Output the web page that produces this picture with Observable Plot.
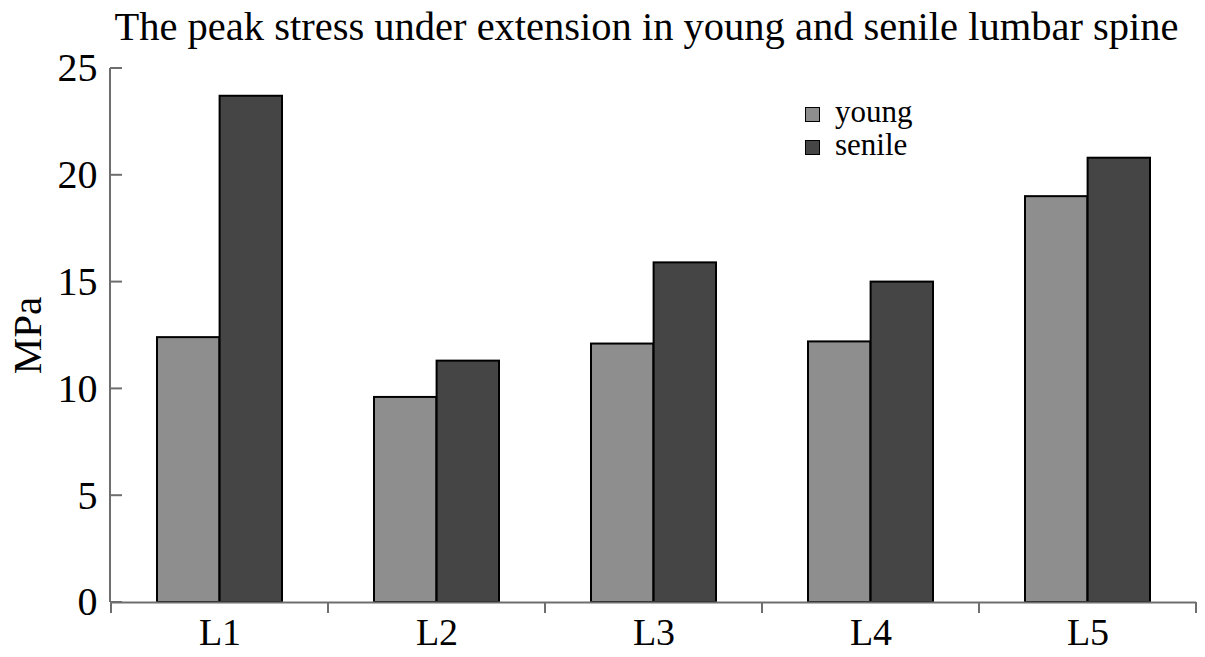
<!DOCTYPE html>
<html>
<head>
<meta charset="utf-8">
<script src="https://cdn.jsdelivr.net/npm/d3@7"></script>
<script src="https://cdn.jsdelivr.net/npm/@observablehq/plot@0.6"></script>
<style>
  html, body { margin: 0; padding: 0; background: #fff; }
  #wrap { position: relative; width: 1205px; height: 657px; font-family: "Liberation Serif", "Times New Roman", serif; color: #000; }
  #title { position: relative; top: 7px; height: 40px; line-height: 40px; font-size: 40.5px; text-align: center; padding-left: 88px; white-space: nowrap; }
  .leg { position: absolute; font-size: 31px; line-height: 31px; white-space: nowrap; }
  .sw { position: absolute; width: 13px; height: 13px; border: 1.5px solid #000; }
  svg { display: block; }
</style>
</head>
<body>
<div id="wrap">
  <div id="title">The peak stress under extension in young and senile lumbar spine</div>
  <div id="chart"></div>
</div>
<script>
const categories = ["L1", "L2", "L3", "L4", "L5"];
const series = ["young", "senile"];
const young = [12.4, 9.6, 12.1, 12.2, 19.0];
const senile = [23.7, 11.3, 15.9, 15.0, 20.8];
const yTicks = [0, 5, 10, 15, 20, 25];
const colors = ["#8e8e8e", "#454545"];

const rows = [];
categories.forEach((c, i) => {
  rows.push({cat: c, series: "young", value: young[i]});
  rows.push({cat: c, series: "senile", value: senile[i]});
});

const W = 1205, H = 617, mL = 110, mR = 9, mT = 28, mB = 55;
const band = (W - mL - mR) / categories.length;
const outer = 46;
const axisColor = "#6e6e6e";

function axisDecor(index, scales, values, dimensions) {
  const {x, y} = scales;
  const g = d3.create("svg:g").attr("stroke", axisColor).attr("stroke-width", 2).attr("fill", "none");
  const left = dimensions.marginLeft;
  g.append("line").attr("x1", left).attr("x2", left).attr("y1", y(25)).attr("y2", y(0));
  for (const t of yTicks) {
    g.append("line").attr("x1", left).attr("x2", left + 12).attr("y1", y(t)).attr("y2", y(t));
  }
  const bounds = categories.map(c => x(c)).concat([x(categories[categories.length - 1]) + x.bandwidth()]);
  for (const b of bounds) {
    g.append("line").attr("x1", b).attr("x2", b).attr("y1", y(0)).attr("y2", y(0) + 11);
  }
  return g.node();
}

const plot = Plot.plot({
  width: W,
  height: H,
  marginLeft: mL,
  marginRight: mR,
  marginTop: mT,
  marginBottom: mB,
  style: {fontFamily: "Liberation Serif, Times New Roman, serif", color: "#000", background: "transparent"},
  x: {domain: categories, padding: 0, label: null},
  y: {domain: [0, 25], label: null},
  color: {domain: series, range: colors},
  marks: [
    Plot.barY(rows.filter(d => d.series === "young"), {x: "cat", y: "value", fill: "series", stroke: "#000", strokeWidth: 2, insetLeft: outer, insetRight: band / 2}),
    Plot.barY(rows.filter(d => d.series === "senile"), {x: "cat", y: "value", fill: "series", stroke: "#000", strokeWidth: 2, insetLeft: band / 2, insetRight: outer}),
    Plot.ruleY([0], {stroke: axisColor, strokeWidth: 2}),
    axisDecor,
    Plot.axisY(yTicks, {tickSize: 0, tickPadding: 13, fontSize: 40, label: null}),
    Plot.axisX({tickSize: 0, tickPadding: 16, fontSize: 38, label: null}),
    Plot.text(["MPa"], {frameAnchor: "left", rotate: -90, dx: -83, fontSize: 41, textAnchor: "middle", lineAnchor: "middle"})
  ]
});
document.getElementById("chart").appendChild(plot);

// legend
const wrap = document.getElementById("wrap");
const legTops = [107, 140];
series.forEach((s, i) => {
  const sw = document.createElement("div");
  sw.className = "sw";
  sw.style.left = "805px";
  sw.style.top = legTops[i] + "px";
  sw.style.background = colors[i];
  wrap.appendChild(sw);
  const t = document.createElement("div");
  t.className = "leg";
  t.style.left = "835px";
  t.style.top = (legTops[i] - 11) + "px";
  t.textContent = s;
  wrap.appendChild(t);
});
</script>
</body>
</html>
